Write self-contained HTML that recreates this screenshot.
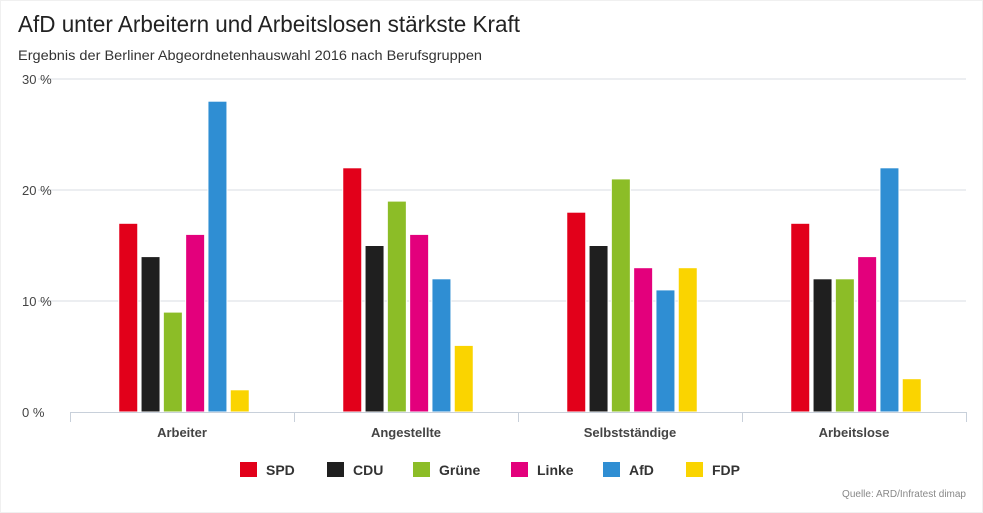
<!DOCTYPE html>
<html><head><meta charset="utf-8"><style>
html,body{margin:0;padding:0;background:#fff}
svg{display:block;font-family:"Liberation Sans",Arial,sans-serif}
</style></head><body>
<svg id="chart" width="983" height="513" viewBox="0 0 983 513">
<rect x="0.5" y="0.5" width="982" height="512" fill="#fff" stroke="#f0f0f0"/>
<text x="18" y="32" font-size="23" fill="#222" textLength="502" lengthAdjust="spacingAndGlyphs">AfD unter Arbeitern und Arbeitslosen stärkste Kraft</text>
<text x="18" y="60" font-size="14" fill="#333" textLength="464" lengthAdjust="spacingAndGlyphs">Ergebnis der Berliner Abgeordnetenhauswahl 2016 nach Berufsgruppen</text>
<g id="grid"></g><g id="bars"></g><g id="axis"></g><g id="legend"></g>
<text x="966" y="497" font-size="10" fill="#888" text-anchor="end">Quelle: ARD/Infratest dimap</text>
</svg>
<script>
const categories=["Arbeiter","Angestellte","Selbstständige","Arbeitslose"];
const parties=["SPD","CDU","Grüne","Linke","AfD","FDP"];
const colors=["#e2001a","#1f1f1f","#8cbd27","#e3007c","#2f8ed3","#fad400"];
const SPD=[17,22,18,17];
const CDU=[14,15,15,12];
const Gruene=[9,19,21,12];
const Linke=[16,16,13,14];
const AfD=[28,12,11,22];
const FDP=[2,6,13,3];
const series=[SPD,CDU,Gruene,Linke,AfD,FDP];
const yTicks=[0,10,20,30];
const tickLabels=["0 %","10 %","20 %","30 %"];
const NS="http://www.w3.org/2000/svg";
const x0=70,x1=966,y0=412,yTop=79,yMax=30;
const groupW=(x1-x0)/categories.length;
const y=v=>y0-(y0-yTop)*v/yMax;
function mk(tag,attrs,parent){const e=document.createElementNS(NS,tag);for(const k in attrs)e.setAttribute(k,attrs[k]);parent.appendChild(e);return e;}
const grid=document.getElementById('grid'),bars=document.getElementById('bars'),axis=document.getElementById('axis'),legend=document.getElementById('legend');
yTicks.forEach((t,i)=>{
  if(t>0){const l=mk('line',{x1:38,x2:x1,y1:y(t),y2:y(t),stroke:'#d8dde3','stroke-width':1},grid);
  
  }
  const tx=mk('text',{x:22,y:y(t)+5,'font-size':13,fill:'#444'},grid);
  tx.textContent=tickLabels[i];
  
  
});
const al=mk('line',{x1:x0,x2:x1,y1:y0+0.5,y2:y0+0.5,stroke:'#c8d0da','stroke-width':1},axis);


for(let g=0;g<=categories.length;g++){
  const tk=mk('line',{x1:x0+g*groupW+0.5,x2:x0+g*groupW+0.5,y1:y0,y2:y0+10,stroke:'#c8d0da'},axis);
  
  
}
const step=22.3,bw=19;
categories.forEach((c,g)=>{
  const cx=x0+g*groupW+groupW/2;
  const lab=mk('text',{x:cx,y:437,'font-size':13,'font-weight':'bold',fill:'#444','text-anchor':'middle'},axis);
  lab.textContent=c;
  
  
  series.forEach((s,i)=>{
    const bx=cx+2+(i-2.5)*step-bw/2;
    const r=mk('rect',{x:bx,y:y(s[g]),width:bw,height:y0-y(s[g]),fill:colors[i],stroke:'#fff','stroke-width':1},bars);
    
    
  });
});
const lx=[240,327,413,511,603,686];
parties.forEach((p,i)=>{
  const gI=mk('g',{},legend);
  
  
  mk('rect',{x:lx[i],y:462,width:17,height:15,fill:colors[i]},gI);
  const t=mk('text',{x:lx[i]+26,y:475,'font-size':14,'font-weight':'bold',fill:'#333'},gI);
  t.textContent=p;
});
</script>
</body></html>
